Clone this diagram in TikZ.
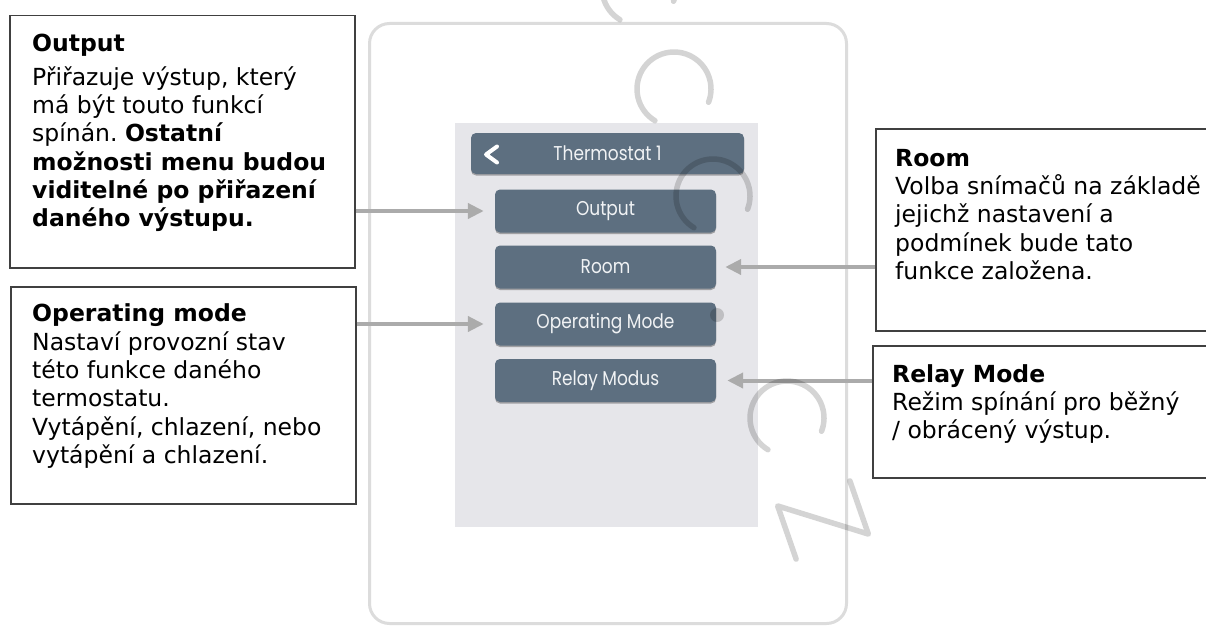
\documentclass[tikz,border=0pt]{standalone}
\usepackage{fontspec}
\setmainfont{DejaVu Sans}
\newfontfamily\uifont[FakeStretch=0.85]{Poppins}
\usetikzlibrary{arrows.meta,shadows,calc}
\definecolor{btn}{HTML}{5D6F80}
\definecolor{scr}{HTML}{E6E6EA}
\definecolor{dev}{HTML}{DCDCDC}
\definecolor{arrc}{HTML}{ABABAB}
\definecolor{bord}{HTML}{404040}
\definecolor{btxt}{HTML}{F0F2F4}
\frenchspacing
\begin{document}
\begin{tikzpicture}[x=1pt,y=-1pt,
  box/.style={draw=bord, line width=1.5pt, inner sep=0pt, anchor=north west},
  txt/.style={anchor=north west, inner sep=0pt, align=left, font=\fontsize{23.5}{28.3}\selectfont},
  menubtn/.style={fill=btn, rounded corners=5pt, minimum width=221pt, minimum height=43pt, inner sep=0pt,
     font=\uifont\fontsize{20}{20}\selectfont, text=btxt,
     drop shadow={shadow xshift=0pt, shadow yshift=-1.5pt, fill=black, opacity=0.3}},
  pointer/.style={draw=arrc, line width=4pt, -{Triangle[length=16pt,width=15pt]}},
  wm/.style={draw=black, draw opacity=0.17, line width=5.5pt, line cap=round, line join=round},
]
\useasboundingbox (0,0) rectangle (1206,626);
\fill[white] (0,0) rectangle (1206,626);

% device
\node[draw=dev, line width=3pt, rounded corners=20pt, minimum width=477pt, minimum height=600pt, anchor=north west, inner sep=0pt] (device) at (368,22) {};
\node[fill=scr, minimum width=303pt, minimum height=404pt, anchor=north west, inner sep=0pt] (screen) at (455,123) {};

% title bar
\node[menubtn, minimum width=273pt, minimum height=41pt] (title) at (607.5,153.5) {Thermostat 1};
\coordinate (chev) at (491,154.5);
\draw[white, line width=4pt, line cap=round, line join=round] (chev) ++(6,-8) -- ++(-11,8) -- ++(11,8);

% menu buttons
\node[menubtn] (outbtn) at (605.5,211) {Output};
\node[menubtn] (roombtn) at (605.5,267) {Room};
\node[menubtn] (opbtn) at (605.5,324) {Operating Mode};
\node[menubtn] (relbtn) at (605.5,380.5) {Relay Modus};

% callout boxes
\node[box, minimum width=345pt, minimum height=252pt] (outbox) at (9,15) {};
\node[box, minimum width=345pt, minimum height=217pt] (opbox) at (10,286) {};
\node[box, minimum width=345pt, minimum height=202pt] (roombox) at (875,128) {};
\node[box, minimum width=345pt, minimum height=132pt] (relbox) at (872,345) {};

\node[txt] (outtxt) at (32,33.8) {\textbf{Output}\\[5.5pt]
Přiřazuje výstup, který\\
má být touto funkcí\\
spínán. \textbf{Ostatní}\\
\textbf{možnosti menu budou}\\
\textbf{viditelné po přiřazení}\\
\textbf{daného výstupu.}};

\node[txt] (optxt) at (32,303.8) {\textbf{Operating mode}\\
Nastaví provozní stav\\
této funkce daného\\
termostatu.\\
Vytápění, chlazení, nebo\\
vytápění a chlazení.};

\node[txt] (roomtxt) at (895,148.8) {\textbf{Room}\\
Volba snímačů na základě\\
jejichž nastavení a\\
podmínek bude tato\\
funkce založena.};

\node[txt] (reltxt) at (892,364.1) {\textbf{Relay Mode}\\
Režim spínání pro běžný\\
/ obrácený výstup.};

% pointers
\draw[pointer] (outbox.east |- outbtn.center) -- ([xshift=-11pt]outbtn.west);
\draw[pointer] (opbox.east |- opbtn.center) -- ([xshift=-11pt]opbtn.west);
\draw[pointer] (roombox.west |- roombtn.center) -- ([xshift=9pt]roombtn.east);
\draw[pointer] (relbox.west |- relbtn.center) -- ([xshift=11pt]relbtn.east);

% faint watermark (rotated letters)
\begin{scope}
\clip (0,0) rectangle (1206,626);
\draw[wm] (639,-12) ++(121:37) arc[start angle=121, end angle=381, radius=37];
\draw[wm] (674,89) ++(121:37) arc[start angle=121, end angle=381, radius=37];
\draw[wm] (713,196) ++(121:37) arc[start angle=121, end angle=381, radius=37];
\fill[black, fill opacity=0.17] (717,315) circle[radius=7];
\draw[wm] (787,418) ++(121:37) arc[start angle=121, end angle=381, radius=37];
\coordinate (zc) at (823,520);
\draw[wm] ($(zc)+(-0.33*28+0.95*38,-0.95*28-0.33*38)$) -- ($(zc)+(0.33*28+0.95*38,0.95*28-0.33*38)$)
  -- ($(zc)+(-0.33*28-0.95*38,-0.95*28+0.33*38)$) -- ($(zc)+(0.33*28-0.95*38,0.95*28+0.33*38)$);
\end{scope}
\end{tikzpicture}
\end{document}
